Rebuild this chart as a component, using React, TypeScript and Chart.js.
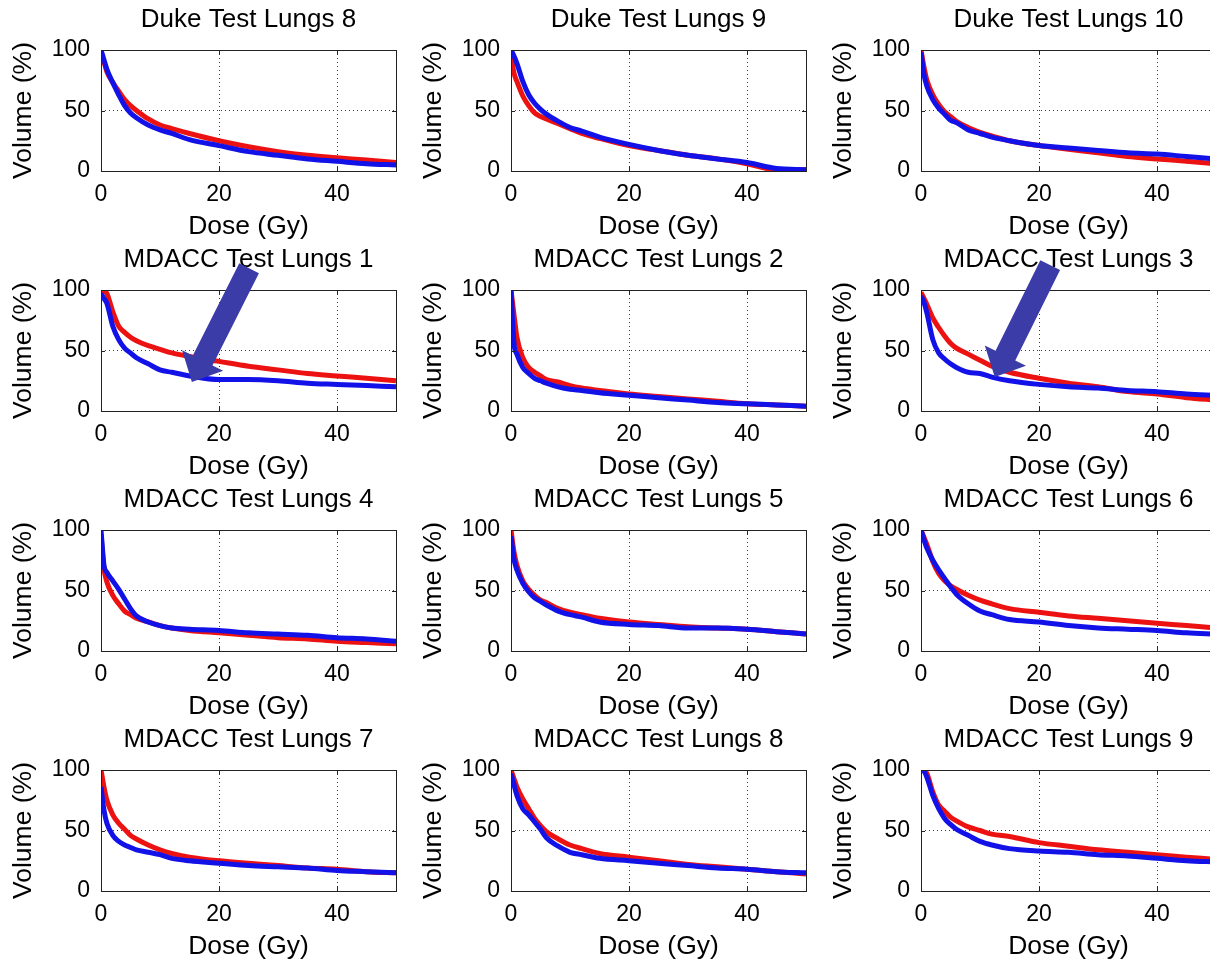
import React, { useEffect, useRef } from 'react';
import { Chart, registerables } from 'chart.js';

Chart.register(...registerables);

// ---------- data ----------
const DOSE = [0, 0.5, 1, 2, 3, 4, 5, 6, 8, 10, 12, 15, 20, 25, 30, 35, 40, 45, 50];

const TITLES = [
  'Duke Test Lungs 8', 'Duke Test Lungs 9', 'Duke Test Lungs 10',
  'MDACC Test Lungs 1', 'MDACC Test Lungs 2', 'MDACC Test Lungs 3',
  'MDACC Test Lungs 4', 'MDACC Test Lungs 5', 'MDACC Test Lungs 6',
  'MDACC Test Lungs 7', 'MDACC Test Lungs 8', 'MDACC Test Lungs 9',
];

const DUKE8_BLUE = [100, 92, 84, 73, 63, 54, 48, 44, 38, 34, 31, 26, 21, 16, 13, 10, 8, 6, 5];
const DUKE8_RED = [97, 90, 82, 73, 66, 59, 54, 50, 43, 38, 35, 31, 25, 20, 16, 13, 11, 9, 7];
const DUKE9_BLUE = [100, 95, 89, 74, 63, 56, 51, 47, 41, 36, 33, 28, 22, 17, 13, 10, 7, 2, 1];
const DUKE9_RED = [95, 81, 74, 62, 54, 48, 45, 43, 39, 35, 31, 27, 21, 17, 13, 10, 6, 1, 1];
const DUKE10_BLUE = [98, 80, 70, 59, 52, 47, 42, 40, 34, 31, 28, 25, 21, 19, 17, 15, 14, 12, 10];
const DUKE10_RED = [100, 86, 75, 63, 55, 49, 45, 41, 36, 32, 29, 25, 21, 18, 15, 12, 10, 8, 6];
const MD1_BLUE = [97, 93, 89, 70, 59, 52, 48, 44, 39, 34, 32, 29, 26, 26, 25, 23, 22, 21, 20];
const MD1_RED = [100, 99, 97, 82, 70, 65, 61, 58, 54, 51, 48, 45, 41, 37, 34, 31, 29, 27, 25];
const MD2_BLUE = [100, 56, 47, 36, 31, 27, 25, 23, 20, 18, 17, 15, 13, 11, 9, 7, 6, 5, 4];
const MD2_RED = [100, 80, 61, 44, 36, 32, 29, 26, 24, 21, 19, 17, 14, 12, 10, 8, 6, 5, 4];
const MD3_BLUE = [95, 90, 81, 59, 48, 43, 39, 36, 32, 31, 28, 25, 22, 20, 19, 17, 16, 14, 13];
const MD3_RED = [98, 93, 88, 77, 69, 62, 56, 52, 47, 42, 37, 32, 27, 23, 20, 16, 14, 11, 9];
const MD4_BLUE = [100, 71, 65, 58, 51, 43, 35, 29, 24, 21, 19, 18, 17, 15, 14, 13, 11, 10, 8];
const MD4_RED = [96, 68, 57, 46, 39, 33, 30, 27, 24, 21, 19, 17, 15, 13, 11, 10, 8, 7, 6];
const MD5_BLUE = [95, 76, 67, 56, 49, 44, 41, 38, 33, 30, 28, 24, 22, 21, 19, 19, 18, 16, 14];
const MD5_RED = [100, 82, 71, 58, 51, 46, 42, 40, 35, 32, 30, 27, 24, 22, 20, 19, 18, 16, 14];
const MD6_BLUE = [100, 92, 85, 75, 67, 60, 53, 47, 39, 33, 30, 26, 24, 21, 19, 18, 17, 15, 14];
const MD6_RED = [100, 94, 88, 74, 64, 58, 54, 51, 46, 42, 39, 35, 32, 29, 27, 25, 23, 21, 19];
const MD7_BLUE = [86, 67, 56, 46, 41, 38, 36, 34, 32, 30, 27, 25, 23, 21, 20, 19, 17, 16, 15];
const MD7_RED = [100, 86, 75, 63, 56, 51, 46, 43, 38, 34, 31, 28, 25, 23, 21, 19, 18, 16, 15];
const MD8_BLUE = [97, 88, 79, 68, 63, 57, 51, 44, 37, 32, 30, 27, 25, 23, 21, 19, 18, 16, 15];
const MD8_RED = [100, 93, 86, 76, 68, 60, 54, 49, 43, 38, 35, 31, 28, 25, 22, 20, 18, 16, 14];
const MD9_BLUE = [100, 99, 94, 79, 68, 60, 55, 51, 46, 41, 38, 35, 33, 32, 30, 29, 27, 25, 24];
const MD9_RED = [100, 100, 97, 82, 71, 66, 61, 58, 53, 50, 47, 45, 40, 37, 34, 32, 30, 28, 26];

const BLUE_SERIES = [DUKE8_BLUE, DUKE9_BLUE, DUKE10_BLUE, MD1_BLUE, MD2_BLUE, MD3_BLUE, MD4_BLUE, MD5_BLUE, MD6_BLUE, MD7_BLUE, MD8_BLUE, MD9_BLUE];
const RED_SERIES = [DUKE8_RED, DUKE9_RED, DUKE10_RED, MD1_RED, MD2_RED, MD3_RED, MD4_RED, MD5_RED, MD6_RED, MD7_RED, MD8_RED, MD9_RED];

const X_TICKS = [0, 20, 40];
const Y_TICKS = [0, 50, 100];
const X_LABEL = 'Dose (Gy)';
const Y_LABEL = 'Volume (%)';

// arrow annotations: panel index, tail and tip in (dose, volume)
const ARROW_PANELS = [3, 5];
const ARROW_TAILS = [[25.1, 118], [21.9, 120.5]];
const ARROW_TIPS = [[15.4, 24], [12.5, 28]];

// ---------- style ----------
const FONT = "'Liberation Sans', Arial, sans-serif";
const BLUE = '#1212e8';
const RED = '#ec1212';
const ARROW_COLOR = '#3c3ca8';
const PANEL_W = 410;
const PANEL_H = 240;

const boxPlugin = {
  id: 'matlabBox',
  afterDraw(chart: any) {
    const { ctx, chartArea: a, scales } = chart;
    ctx.save();
    ctx.strokeStyle = '#222';
    ctx.lineWidth = 1;
    ctx.setLineDash([]);
    ctx.strokeRect(Math.round(a.left) + 0.5, Math.round(a.top) + 0.5, Math.round(a.right - a.left), Math.round(a.bottom - a.top));
    ctx.beginPath();
    X_TICKS.forEach((v) => {
      const px = Math.round(scales.x.getPixelForValue(v)) + 0.5;
      ctx.moveTo(px, a.bottom); ctx.lineTo(px, a.bottom - 4);
      ctx.moveTo(px, a.top); ctx.lineTo(px, a.top + 4);
    });
    Y_TICKS.forEach((v) => {
      const py = Math.round(scales.y.getPixelForValue(v)) + 0.5;
      ctx.moveTo(a.left, py); ctx.lineTo(a.left + 4, py);
      ctx.moveTo(a.right, py); ctx.lineTo(a.right - 4, py);
    });
    ctx.stroke();
    ctx.restore();
  },
};

const arrowPlugin = {
  id: 'bigArrow',
  afterDraw(chart: any, _args: any, opts: any) {
    if (!opts || !opts.tail) return;
    const { ctx, scales } = chart;
    const x0 = scales.x.getPixelForValue(opts.tail[0]);
    const y0 = scales.y.getPixelForValue(opts.tail[1]);
    const x1 = scales.x.getPixelForValue(opts.tip[0]);
    const y1 = scales.y.getPixelForValue(opts.tip[1]);
    const len = Math.hypot(x1 - x0, y1 - y0);
    const dx = (x1 - x0) / len;
    const dy = (y1 - y0) / len;
    const nx = -dy;
    const ny = dx;
    const sw = 11;
    const hw = 23;
    const hl = 24;
    const bx = x1 - dx * hl;
    const by = y1 - dy * hl;
    ctx.save();
    ctx.fillStyle = ARROW_COLOR;
    ctx.beginPath();
    ctx.moveTo(x0 + nx * sw, y0 + ny * sw);
    ctx.lineTo(bx + nx * sw, by + ny * sw);
    ctx.lineTo(bx + nx * hw, by + ny * hw);
    ctx.lineTo(x1, y1);
    ctx.lineTo(bx - nx * hw, by - ny * hw);
    ctx.lineTo(bx - nx * sw, by - ny * sw);
    ctx.lineTo(x0 - nx * sw, y0 - ny * sw);
    ctx.closePath();
    ctx.fill();
    ctx.restore();
  },
};

function Panel({ index }: { index: number }) {
  const ref = useRef<HTMLCanvasElement | null>(null);
  useEffect(() => {
    if (!ref.current) return;
    const arrowIdx = ARROW_PANELS.indexOf(index);
    const tickFont = { family: FONT, size: 23, weight: 'normal' as const };
    const labelFont = { family: FONT, size: 26.5, weight: 'normal' as const, lineHeight: 1 };
    const titleFont = { family: FONT, size: 26, weight: 'normal' as const, lineHeight: 1 };
    const gridCommon = { color: '#3a3a3a', lineWidth: 1, drawTicks: false };
    const chart = new Chart(ref.current, {
      type: 'line',
      data: {
        datasets: [
          {
            data: DOSE.map((d, i) => ({ x: d, y: BLUE_SERIES[index][i] })),
            borderColor: BLUE,
            borderWidth: 5,
            pointRadius: 0,
            fill: false,
            cubicInterpolationMode: 'monotone',
          },
          {
            data: DOSE.map((d, i) => ({ x: d, y: RED_SERIES[index][i] })),
            borderColor: RED,
            borderWidth: 5,
            pointRadius: 0,
            fill: false,
            cubicInterpolationMode: 'monotone',
          },
        ],
      },
      options: {
        animation: false,
        responsive: false,
        devicePixelRatio: 1,
        layout: { padding: { left: 0, top: 0, bottom: 0, right: 14 } },
        events: [],
        plugins: {
          legend: { display: false },
          tooltip: { enabled: false },
          title: {
            display: true,
            fullSize: false,
            text: TITLES[index],
            color: '#000',
            font: titleFont,
            padding: { top: 7, bottom: 17 },
          },
          bigArrow: arrowIdx >= 0 ? { tail: ARROW_TAILS[arrowIdx], tip: ARROW_TIPS[arrowIdx] } : {},
        } as any,
        scales: {
          x: {
            type: 'linear',
            min: 0,
            max: 50,
            afterBuildTicks: (s: any) => { s.ticks = X_TICKS.map((v) => ({ value: v })); },
            afterFit: (s: any) => { s.height = 69; },
            ticks: { font: tickFont, color: '#000', padding: 10, maxRotation: 0, autoSkip: false },
            grid: gridCommon,
            border: { display: false, dash: [1, 3] },
            title: { display: true, text: X_LABEL, color: '#000', font: labelFont, padding: 0 },
          },
          y: {
            type: 'linear',
            min: 0,
            max: 100,
            afterBuildTicks: (s: any) => { s.ticks = Y_TICKS.map((v) => ({ value: v })); },
            afterFit: (s: any) => { s.width = 101; },
            ticks: { font: tickFont, color: '#000', padding: 11, autoSkip: false },
            grid: gridCommon,
            border: { display: false, dash: [1, 3] },
            title: { display: true, text: Y_LABEL, color: '#000', font: labelFont, padding: { top: 10.5, bottom: 0 } },
          },
        },
      } as any,
      plugins: [boxPlugin, arrowPlugin],
    });
    return () => chart.destroy();
  }, [index]);
  const col = index % 3;
  const row = Math.floor(index / 3);
  return (
    <canvas
      ref={ref}
      width={PANEL_W}
      height={PANEL_H}
      style={{ position: 'absolute', left: col * PANEL_W, top: row * PANEL_H, width: PANEL_W, height: PANEL_H }}
    />
  );
}

export default function App() {
  return (
    <div style={{ position: 'absolute', left: 0, top: 0, width: 1210, height: 962, overflow: 'hidden', background: '#fff' }}>
      {TITLES.map((_, i) => (
        <Panel key={i} index={i} />
      ))}
    </div>
  );
}
